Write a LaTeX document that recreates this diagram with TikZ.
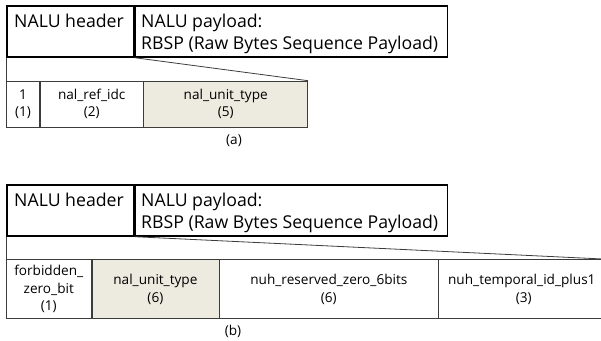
\documentclass[tikz,border=0pt]{standalone}
\usepackage{fontspec}
\setmainfont{Open Sans}
\usetikzlibrary{positioning}
\definecolor{typefill}{HTML}{EDEAE0}
\definecolor{fldline}{HTML}{3C3C3C}
\tikzset{
  hdr/.style={draw, line width=1.7pt, anchor=north west, minimum height=51pt, inner sep=0pt},
  hdrtext/.style={anchor=base west, inner sep=0pt, font=\fontsize{17.7}{22}\selectfont},
  fld/.style={draw=fldline, line width=0.8pt, anchor=north west, inner sep=0pt, align=center,
    font=\fontsize{13.6}{17.5}\selectfont},
  captext/.style={inner sep=0pt, font=\fontsize{13.6}{16}\selectfont}
}
\begin{document}
\begin{tikzpicture}[x=1pt,y=-1pt]
\useasboundingbox (0,0) rectangle (601,340);
% (a) H.264
\node[hdr, minimum width=127pt] (hA) at (6,5) {};
\node[hdr, minimum width=312pt] (pA) at (hA.north east) {};
\node[hdrtext] (hAtxt) at (14,27) {NALU header};
\node[hdrtext] (pAtxt1) at (141,27) {NALU payload:};
\node[hdrtext] (pAtxt2) at (141,49) {RBSP (Raw Bytes Sequence Payload)};
\node[fld, minimum width=33.3pt, minimum height=46pt] (a1) at (6,80.7) {1\\(1)};
\node[fld, minimum width=102.4pt, minimum height=46pt] (a2) at (a1.north east) {nal\_ref\_idc\\(2)};
\node[fld, fill=typefill, minimum width=164pt, minimum height=46pt] (a3) at (a2.north east) {nal\_unit\_type\\(5)};
\draw[fldline, line width=0.8pt] (hA.south west) -- (a1.north west);
\draw[fldline, line width=0.8pt] (hA.south east) -- (a3.north east);
\node[captext] (capA) at (234,141) {(a)};
% (b) HEVC
\node[hdr, minimum width=127pt] (hB) at (6,184) {};
\node[hdr, minimum width=312pt] (pB) at (hB.north east) {};
\node[hdrtext] (hBtxt) at (14,206) {NALU header};
\node[hdrtext] (pBtxt1) at (141,206) {NALU payload:};
\node[hdrtext] (pBtxt2) at (141,228) {RBSP (Raw Bytes Sequence Payload)};
\node[fld, minimum width=84.7pt, minimum height=59pt] (b1) at (6,259.3) {forbidden\_\\zero\_bit\\(1)};
\node[fld, fill=typefill, minimum width=127pt, minimum height=59pt] (b2) at (b1.north east) {nal\_unit\_type\\(6)};
\node[fld, minimum width=218.3pt, minimum height=59pt] (b3) at (b2.north east) {nuh\_reserved\_zero\_6bits\\(6)};
\node[fld, minimum width=170pt, minimum height=59pt] (b4) at (b3.north east) {\hspace*{-8pt}nuh\_temporal\_id\_plus1\hspace*{-4pt}\\(3)};
\draw[fldline, line width=0.8pt] (hB.south west) -- (b1.north west);
\draw[fldline, line width=0.8pt] (hB.south east) -- (b4.north east);
\node[captext] (capB) at (233,331) {(b)};
\end{tikzpicture}
\end{document}
